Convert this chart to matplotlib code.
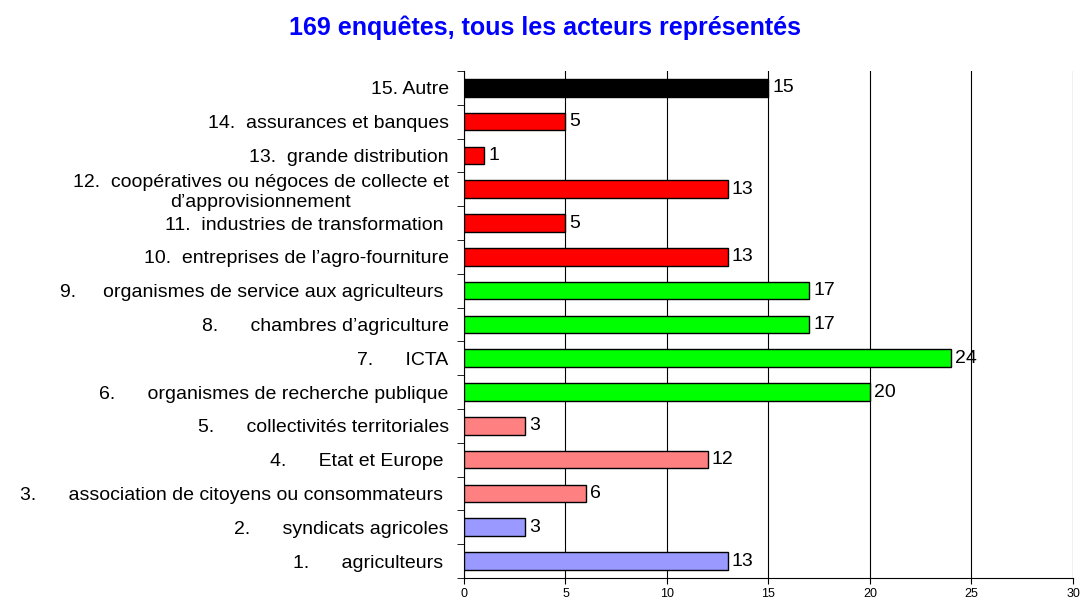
import matplotlib.pyplot as plt
import numpy as np

plt.rcParams['font.family'] = ['Liberation Sans', 'DejaVu Sans']

# categories from bottom (1) to top (15)
labels = [
    "1.      agriculteurs ",
    "2.      syndicats agricoles",
    "3.      association de citoyens ou consommateurs ",
    "4.      Etat et Europe ",
    "5.      collectivités territoriales",
    "6.      organismes de recherche publique",
    "7.      ICTA",
    "8.      chambres d’agriculture",
    "9.     organismes de service aux agriculteurs ",
    "10.  entreprises de l’agro-fourniture",
    "11.  industries de transformation ",
    "12.  coopératives ou négoces de collecte et\nd’approvisionnement",
    "13.  grande distribution",
    "14.  assurances et banques",
    "15. Autre",
]
values = [13, 3, 6, 12, 3, 20, 24, 17, 17, 13, 5, 13, 1, 5, 15]
colors = ["#9999FF", "#9999FF", "#FF8080", "#FF8080", "#FF8080",
          "#00FF00", "#00FF00", "#00FF00", "#00FF00",
          "#FF0000", "#FF0000", "#FF0000", "#FF0000", "#FF0000",
          "#000000"]
xticks = [0, 5, 10, 15, 20, 25, 30]

fig = plt.figure(figsize=(10.81, 6.03), dpi=100)
ax = fig.add_axes([0.4292, 0.0415, 0.5634, 0.8408])

y = np.arange(len(values))
ax.barh(y, values, height=0.52, color=colors, edgecolor="black", linewidth=1, zorder=3)

# value labels at bar ends
for yi, v in zip(y, values):
    ax.text(v + 0.2, yi, str(v), va="center", ha="left", fontsize=14, zorder=4)

ax.set_xlim(0, 30)
ax.set_ylim(-0.5, len(values) - 0.5)
ax.set_xticks(xticks)
ax.tick_params(axis="x", labelsize=9, length=4, direction="out", pad=3)
ax.set_yticks(y)
ax.set_yticklabels(labels, fontsize=14, multialignment="center")
ax.tick_params(axis="y", which="major", length=0, pad=11)
ax.set_yticks(np.arange(-0.5, len(values)), minor=True)
ax.tick_params(axis="y", which="minor", length=5, direction="out")

ax.grid(axis="x", color="black", linewidth=0.8, zorder=0)
ax.spines["top"].set_visible(False)
ax.spines["right"].set_visible(False)

fig.text(0.504, 1 - 28 / 603, "169 enquêtes, tous les acteurs représentés",
         ha="center", va="center", fontsize=18, fontweight="bold", color="#0000FF")

plt.savefig("out.png", dpi=100)
